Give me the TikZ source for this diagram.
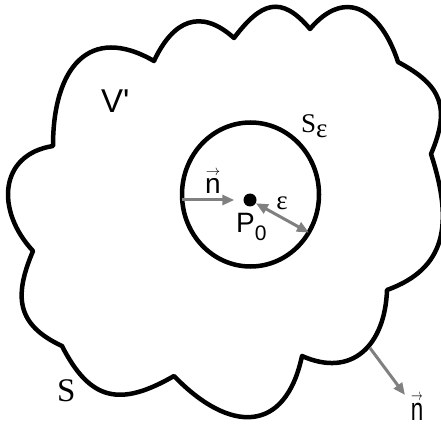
\documentclass[tikz,border=0pt]{standalone}
\usepackage{fontspec}
\setmainfont{Liberation Serif}
\setsansfont{Liberation Sans}
\usetikzlibrary{arrows.meta,shapes.geometric}

\begin{document}
\begin{tikzpicture}[
    x=1pt, y=1pt,
    >={Triangle[length=12pt,width=10pt]},
    cloudline/.style={line width=4.5pt, line join=round},
    narrow/.style={->, draw=gray, fill=gray, line width=3pt},
    sflbl/.style={font=\sffamily\fontsize{28}{32}\selectfont, inner sep=0pt},
    rmlbl/.style={font=\fontsize{27}{31}\selectfont, inner sep=0pt}
]
  \useasboundingbox (0,0) rectangle (441,426);

  % cusps of the outer surface S
  \coordinate (c1) at (53,280);
  \coordinate (c2) at (154,365);
  \coordinate (c3) at (234,388);
  \coordinate (c4) at (310,397);
  \coordinate (c5) at (398,364);
  \coordinate (c6) at (431,272);
  \coordinate (c7) at (387,136);
  \coordinate (c8) at (302,70);
  \coordinate (c9) at (174,50);
  \coordinate (c10) at (62,80);
  \coordinate (c11) at (33,175);

  \draw[cloudline] (c1) .. controls +(90:78) and +(150:75) .. (c2)
    .. controls +(65:45) and +(138:45) .. (c3)
    .. controls +(53:45) and +(130:45) .. (c4)
    .. controls +(50:55) and +(108:55) .. (c5)
    .. controls +(-28:50) and +(67:50) .. (c6)
    .. controls +(-72:75) and +(20:62) .. (c7)
    .. controls +(-92:55) and +(-24:55) .. (c8)
    .. controls +(-102:80) and +(-46:80) .. (c9)
    .. controls +(210:62) and +(-63:62) .. (c10)
    .. controls +(155:50) and +(247:50) .. (c11)
    .. controls +(133:55) and +(189:55) .. (c1) -- cycle;

  % small sphere S_eps round P0
  \node[draw, ellipse, line width=4.5pt, minimum width=137pt, minimum height=144pt, inner sep=0pt] (sph) at (250.5,231.5) {};
  \node[fill, circle, minimum size=13pt, inner sep=0pt] (p0) at (250,226) {};

  \draw[narrow, shorten <=2pt, shorten >=9pt] (sph.west |- p0) -- (p0);
  \draw[narrow, <->, shorten >=2pt] (p0) -- (sph.-33);

  % outward normal on S
  \coordinate (nfoot) at (370,78);
  \coordinate (ntip) at (405,31);
  \draw[narrow] (nfoot) -- (ntip);

  % labels
  \node[sflbl, anchor=base] (nin) at (213,233) {$\stackrel{\scriptscriptstyle\rightarrow}{\hbox{n}}$};
  \node[sflbl, anchor=base west] (p0lbl) at (236,194) {P\raisebox{-8pt}{\fontsize{21}{24}\selectfont 0}};
  \node[rmlbl, anchor=base] (epslbl) at (282,216) {ε};
  \node[rmlbl, anchor=base west] (sepslbl) at (301,293) {S\raisebox{-5pt}{ε}};
  \node[sflbl, font=\sffamily\fontsize{33}{36}\selectfont, anchor=base west] (vlbl) at (101,313) {V\textquotesingle};
  \node[rmlbl, font=\fontsize{33}{36}\selectfont, anchor=base west] (slbl) at (57,25) {S};
  \node[sflbl, anchor=base] (nout) at (417,6) {\scalebox{0.8}[1.15]{$\stackrel{\scriptscriptstyle\rightarrow}{\hbox{n}}$}};
\end{tikzpicture}
\end{document}
